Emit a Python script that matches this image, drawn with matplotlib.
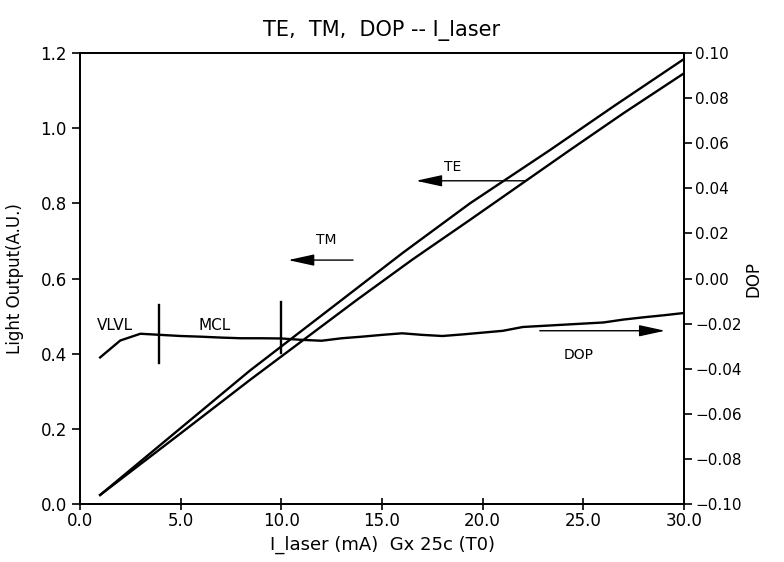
import matplotlib
matplotlib.use("Agg")
import matplotlib.pyplot as plt
import numpy as np

# Data
curve_x = [1.0, 3.0, 5.0, 8.44, 13.0, 16.0, 19.37, 23.35, 26.5, 30.0]
te_upper = [0.024, 0.113, 0.202, 0.355, 0.543, 0.667, 0.80, 0.942, 1.058, 1.184]
tm_lower_x = [1.0, 3.0, 5.0, 8.44, 13.75, 16.5, 19.37, 24.34, 27.0, 30.0]
tm_lower = [0.024, 0.106, 0.188, 0.330, 0.543, 0.650, 0.756, 0.942, 1.040, 1.146]

dop_x = list(range(1, 31))
dop = [-0.035, -0.0275, -0.0245, -0.025, -0.0255, -0.0258, -0.0262, -0.0265,
       -0.0265, -0.0266, -0.0272, -0.0276, -0.0265, -0.0258, -0.0250, -0.0243,
       -0.0250, -0.0255, -0.0248, -0.0240, -0.0232, -0.0215, -0.0210, -0.0205,
       -0.0200, -0.0195, -0.0182, -0.0172, -0.0163, -0.0153]

x_ticks = [0, 5, 10, 15, 20, 25, 30]
y_left_ticks = [0.0, 0.2, 0.4, 0.6, 0.8, 1.0, 1.2]
y_right_ticks = [-0.10, -0.08, -0.06, -0.04, -0.02, 0.00, 0.02, 0.04, 0.06, 0.08, 0.10]

plt.rcParams['font.family'] = ['DejaVu Sans']

fig = plt.figure(figsize=(7.84, 5.62), dpi=100)
ax = fig.add_axes([80/784, 1 - 504/562, (684-80)/784, (504-53)/562])
ax2 = ax.twinx()

lw = 1.7
ax.plot(curve_x, te_upper, color='black', lw=lw)
ax.plot(tm_lower_x, tm_lower, color='black', lw=lw)
ax2.plot(dop_x, dop, color='black', lw=lw)

ax.set_xlim(0, 30)
ax.set_ylim(0, 1.2)
ax2.set_ylim(-0.10, 0.10)

ax.set_xticks(x_ticks)
ax.set_xticklabels([f"{v:.1f}" for v in x_ticks])
ax.set_yticks(y_left_ticks)
ax.set_yticklabels([f"{v:.1f}" for v in y_left_ticks])
ax2.set_yticks(y_right_ticks)
ax2.set_yticklabels([f"{v:.2f}".replace('-', '\u2212') if abs(v) > 1e-9 else "0.00" for v in y_right_ticks])

for a in (ax, ax2):
    for s in a.spines.values():
        s.set_linewidth(1.3)
ax.tick_params(axis='x', direction='inout', length=8, width=1.2, labelsize=12, pad=2)
ax.tick_params(axis='y', direction='out', length=6, width=1.2, labelsize=12)
ax2.tick_params(axis='y', direction='out', length=6, width=1.2, labelsize=11, pad=2)

ax.set_title("TE,  TM,  DOP -- I_laser", fontsize=15, pad=12)
ax.set_xlabel("I_laser (mA)  Gx 25c (T0)", fontsize=13, labelpad=4)
ax.set_ylabel("Light Output(A.U.)", fontsize=12)
ax.yaxis.set_label_coords(-0.093, 0.5)
ax2.set_ylabel("DOP", fontsize=12)
ax2.yaxis.set_label_coords(1.10, 0.5)

# vertical region markers
ax.plot([3.9, 3.9], [0.375, 0.53], color='black', lw=1.7)
ax.plot([10.0, 10.0], [0.401, 0.538], color='black', lw=1.7)
ax.text(1.74, 0.476, "VLVL", fontsize=11, ha='center', va='center')
ax.text(6.7, 0.476, "MCL", fontsize=11, ha='center', va='center')

# annotations with arrows
arrow_kw = dict(arrowstyle='-|>,head_length=1.6,head_width=0.35', color='black', lw=1.0)
ax.annotate("", xy=(10.2, 0.649), xytext=(13.7, 0.649), arrowprops=arrow_kw)
ax.text(12.25, 0.703, "TM", fontsize=10, ha='center', va='center')
ax.annotate("", xy=(16.55, 0.860), xytext=(22.25, 0.860), arrowprops=arrow_kw)
ax.text(18.5, 0.897, "TE", fontsize=10, ha='center', va='center')
ax.annotate("", xy=(29.2, 0.461), xytext=(22.7, 0.461), arrowprops=arrow_kw)
ax.text(24.75, 0.396, "DOP", fontsize=10, ha='center', va='center')

fig.savefig("out.png", dpi=100)
